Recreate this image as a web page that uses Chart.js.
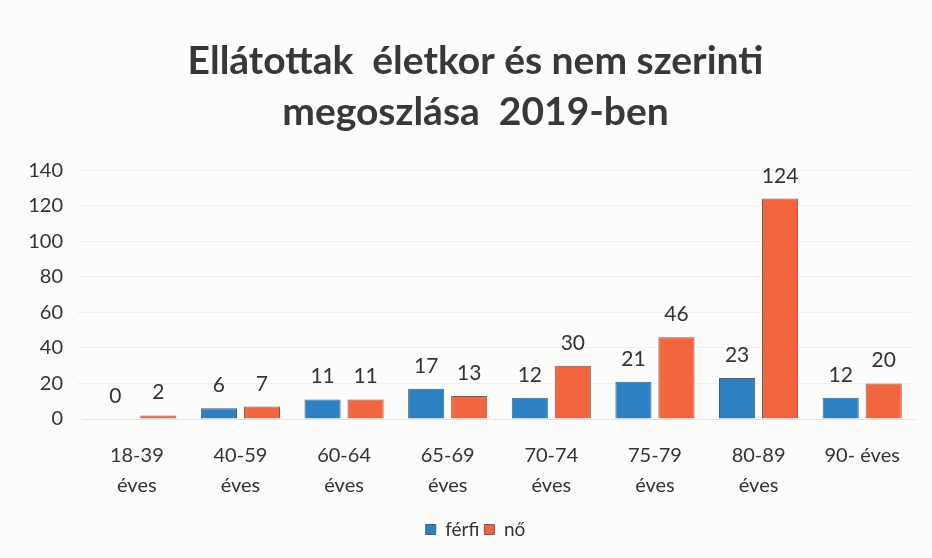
<!DOCTYPE html>
<html><head><meta charset="utf-8">
<script src="https://cdn.jsdelivr.net/npm/chart.js@4/dist/chart.umd.min.js"></script>
<style>html,body{margin:0;padding:0;background:#fcfcfa;}#wrap{width:932px;height:558px;}</style>
</head><body><div id="wrap"><canvas id="c" width="932" height="558"></canvas></div>
<script>
const categories = [["18-39","éves"],["40-59","éves"],["60-64","éves"],["65-69","éves"],["70-74","éves"],["75-79","éves"],["80-89","éves"],"90- éves"];
const ferfi = [0,6,11,17,12,21,23,12];
const no = [2,7,11,13,30,46,124,20];
const seriesNames = ["férfi","nő"];
const yTicks = [0,20,40,60,80,100,120,140];

const FONT = "Lato, 'Open Sans', sans-serif";
const labelPlugin = {
  id:'vals',
  afterLayout(chart){
    // let y tick labels extend left of the reserved axis box without being clipped
    chart.scales.y.left = 10;
  },
  afterDatasetsDraw(chart){
    const ctx = chart.ctx;
    ctx.save();
    ctx.font = "21px " + FONT;
    ctx.fillStyle = "#333";
    ctx.textAlign = "center";
    ctx.textBaseline = "alphabetic";
    chart.data.datasets.forEach((ds,i)=>{
      const meta = chart.getDatasetMeta(i);
      meta.data.forEach((bar,j)=>{
        ctx.fillText(String(ds.data[j]), bar.x, bar.y - 16);
      });
    });
    ctx.restore();
  }
};
new Chart(document.getElementById('c'),{
  type:'bar',
  data:{labels:categories,datasets:[
    {label:seriesNames[0],data:ferfi,backgroundColor:'#2d80c2',borderColor:'#41607c',borderWidth:1},
    {label:seriesNames[1],data:no,backgroundColor:'#f2653e',borderColor:'#84574a',borderWidth:1}
  ]},
  options:{
    responsive:false,animation:false,
    layout:{padding:{left:37,right:18,top:0,bottom:9}},
    categoryPercentage:0.83,barPercentage:0.84,
    plugins:{
      title:{display:true,text:["Ellátottak  életkor és nem szerinti","megoszlása  2019-ben"],
        font:{family:FONT,size:39,weight:'bold',lineHeight:1.31},color:'#383838',padding:{top:36,bottom:32}},
      legend:{position:'bottom',labels:{font:{family:FONT,size:19},color:'#333',boxWidth:10,boxHeight:10,padding:5}},
      tooltip:{enabled:false}
    },
    scales:{
      x:{grid:{display:false},border:{color:'#e2e2e2'},ticks:{font:{family:FONT,size:20,lineHeight:1.5},color:'#333',padding:14}},
      y:{min:0,max:140,afterBuildTicks(ax){ax.ticks=yTicks.map(v=>({value:v}));},
        afterFit(ax){ax.width=48;},
        grid:{color:'#f0f0f0'},border:{display:false},
        ticks:{font:{family:FONT,size:20},color:'#333',padding:14}}
    }
  },
  plugins:[labelPlugin]
});
</script></body></html>
